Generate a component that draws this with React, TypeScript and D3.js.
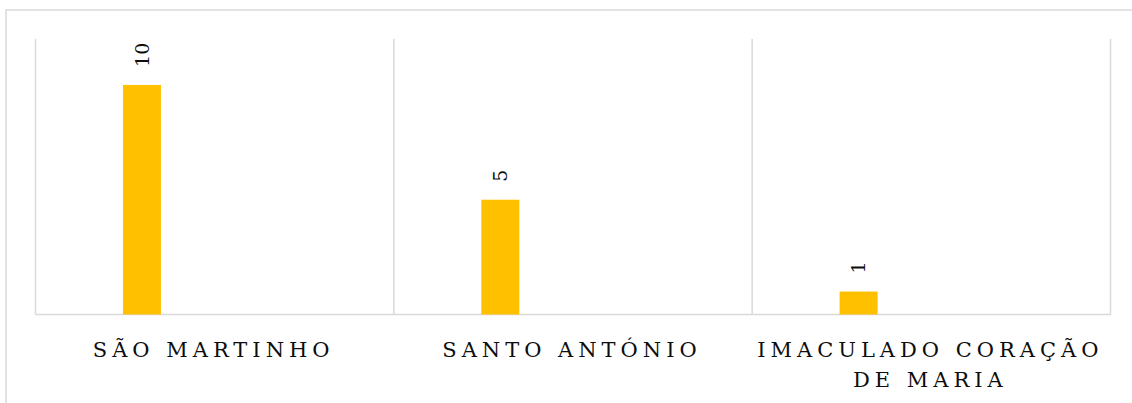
import React from "react";
import * as d3 from "d3";

const categories: string[][] = [
  ["SÃO MARTINHO"],
  ["SANTO ANTÓNIO"],
  ["IMACULADO CORAÇÃO", "DE MARIA"],
];
const categoryKeys = ["São Martinho", "Santo António", "Imaculado Coração de Maria"];
const values = [10, 5, 1];

const W = 1132;
const H = 403;
const plotLeft = 35.5;
const plotRight = 1110.5;
const plotTop = 39;
const plotBottom = 314.5;
const font = "'DejaVu Serif', 'Noto Serif', FreeSerif, serif";
const letterSp = 5;

export default function App() {
  const yScale = d3.scaleLinear().domain([0, 12]).range([plotBottom, plotTop]);
  const cat = d3.scaleBand<string>().domain(categoryKeys).range([plotLeft, plotRight]).padding(0);
  const bar = d3
    .scaleBand<string>()
    .domain(categoryKeys)
    .range([plotLeft, plotRight])
    .paddingInner(0.894)
    .paddingOuter(0.447)
    .align(0.273);

  const bounds = categoryKeys.map((k) => cat(k)!).concat([plotRight]);

  return (
    <svg
      width={W}
      height={H}
      style={{ position: "absolute", left: 0, top: 0, background: "#fff", fontFamily: font }}
    >
      <rect x={6} y={10} width={1200} height={500} fill="#fff" stroke="#d9d9d9" strokeWidth={1.5} />
      {bounds.map((bx, i) => (
        <line key={"g" + i} x1={bx} x2={bx} y1={plotTop} y2={plotBottom} stroke="#d9d9d9" strokeWidth={1.5} />
      ))}
      <line x1={plotLeft} x2={plotRight} y1={plotBottom} y2={plotBottom} stroke="#d9d9d9" strokeWidth={1.5} />
      {categoryKeys.map((k, i) => {
        const x = bar(k)!;
        const w = bar.bandwidth();
        const y = yScale(values[i]);
        const cx = x + w / 2;
        const ty = y - 18;
        return (
          <g key={k}>
            <rect x={x} y={y} width={w} height={yScale(0) - y} fill="#FFC000" />
            <text
              x={cx}
              y={ty}
              transform={`rotate(-90 ${cx} ${ty})`}
              dy="0.36em"
              style={{ fontFamily: font, fontSize: 19 }}
              fill="#0d0d0d"
              textAnchor="start"
            >
              {values[i]}
            </text>
          </g>
        );
      })}
      {categoryKeys.map((k, i) => {
        const cx = cat(k)! + cat.bandwidth() / 2 - 1;
        return (
          <text
            key={"l" + k}
            x={cx}
            y={357}
            style={{ fontFamily: font, fontSize: 21, letterSpacing: letterSp }}
            textAnchor="middle"
            fill="#0d0d0d"
          >
            {categories[i].map((line, j) => (
              <tspan key={j} x={cx} dy={j === 0 ? 0 : 30}>
                {line}
              </tspan>
            ))}
          </text>
        );
      })}
    </svg>
  );
}
